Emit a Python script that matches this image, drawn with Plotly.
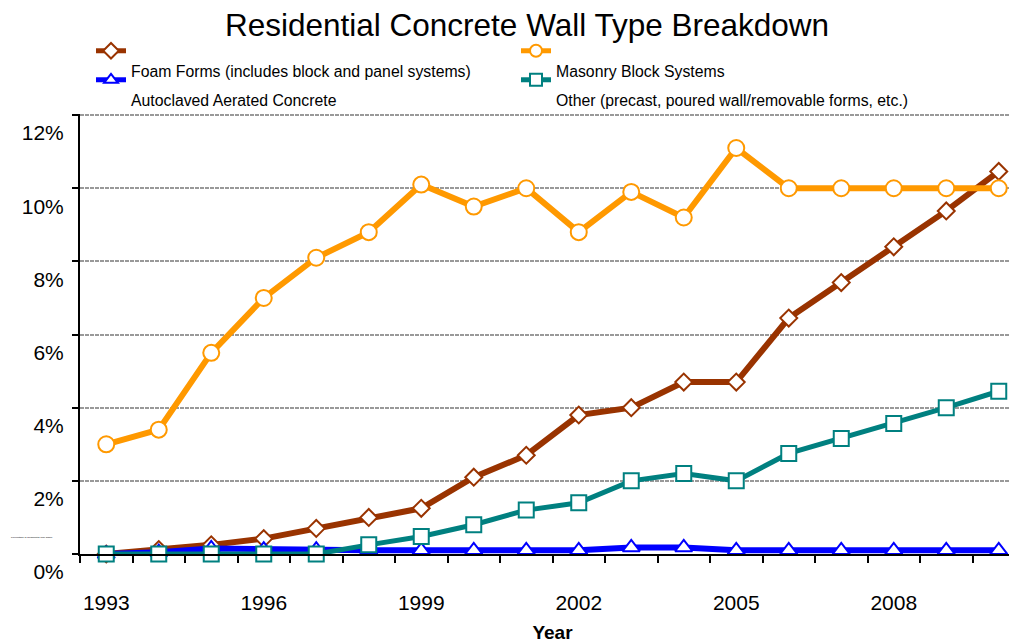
import plotly.graph_objects as go

years = [1993, 1994, 1995, 1996, 1997, 1998, 1999, 2000, 2001, 2002,
         2003, 2004, 2005, 2006, 2007, 2008, 2009, 2010]

foam_forms = [0.0, 0.12, 0.25, 0.42, 0.7, 1.0, 1.25, 2.1, 2.7, 3.8,
              4.0, 4.7, 4.7, 6.45, 7.42, 8.4, 9.38, 10.46]
masonry = [3.0, 3.4, 5.5, 7.0, 8.1, 8.8, 10.1, 9.5, 10.0, 8.8,
           9.9, 9.2, 11.1, 10.0, 10.0, 10.0, 10.0, 10.0]
aac = [0.0, 0.05, 0.15, 0.12, 0.12, 0.1, 0.1, 0.1, 0.1, 0.1,
       0.18, 0.18, 0.1, 0.1, 0.1, 0.1, 0.1, 0.1]
other = [0.0, 0.0, 0.0, 0.0, 0.0, 0.25, 0.48, 0.8, 1.2, 1.4,
         2.0, 2.2, 2.0, 2.75, 3.16, 3.57, 4.0, 4.45]

series_names = ["Foam Forms (includes block and panel systems)",
                "Masonry Block Systems",
                "Autoclaved Aerated Concrete",
                "Other (precast, poured wall/removable forms, etc.)"]

y_tickvals = [0, 2, 4, 6, 8, 10, 12]
y_ticktext = ["0%", "2%", "4%", "6%", "8%", "10%", "12%"]
x_tickvals = [1993, 1996, 1999, 2002, 2005, 2008]
x_ticktext = ["1993", "1996", "1999", "2002", "2005", "2008"]

title_text = "Residential Concrete Wall Type Breakdown"
x_title = "Year"
y_title = "Percentage of Residential Wall Share"

FONT = "Liberation Sans, Arial, sans-serif"
W, H = 1017, 642
OFF = 8  # page body margin offset

styles = [
    dict(color="#993300", symbol="diamond", size=13, width=6, legend="legend"),
    dict(color="#FF9900", symbol="circle", size=16, width=6, legend="legend2"),
    dict(color="#0000FF", symbol="triangle-up", size=15, width=6, legend="legend3"),
    dict(color="#008080", symbol="square", size=15, width=5, legend="legend4"),
]

fig = go.Figure()
for name, vals, st in zip(series_names, [foam_forms, masonry, aac, other], styles):
    fig.add_trace(go.Scatter(
        x=years, y=vals, name="<br>" + name, mode="lines+markers",
        line=dict(color=st["color"], width=st["width"]),
        marker=dict(symbol=st["symbol"], size=st["size"], color="white",
                    line=dict(color=st["color"], width=2)),
        legend=st["legend"], cliponaxis=False,
    ))


def leg(xpx, ypx):
    return dict(x=(xpx - OFF) / W, y=1 - (ypx - OFF) / H,
                xref="container", yref="container",
                xanchor="left", yanchor="top", valign="top",
                bgcolor="rgba(0,0,0,0)", borderwidth=0,
                itemsizing="constant",
                font=dict(family=FONT, size=15.8, color="black"))


fig.update_layout(
    width=W, height=H,
    paper_bgcolor="white", plot_bgcolor="white",
    margin=dict(l=80 - OFF, r=0, t=114 - OFF, b=H - (554 - OFF), autoexpand=False),
    title=dict(text=title_text, x=(527 - OFF) / W, xanchor="center",
               y=1 - (25 - OFF) / H, yanchor="middle",
               font=dict(family=FONT, size=31.5, color="black")),
    legend=leg(91, 34),
    legend2=leg(516, 34),
    legend3=leg(91, 63),
    legend4=leg(516, 63),
    showlegend=True,
    xaxis=dict(
        range=[1992.5, 2010.5], tickvals=x_tickvals, ticktext=x_ticktext,
        ticks="", showgrid=False, zeroline=False,
        showline=True, linecolor="black", linewidth=2,
        ticklabelstandoff=29,
        tickfont=dict(family=FONT, size=21, color="black"),
        minor=dict(tick0=1992.5, dtick=1, ticks="outside", ticklen=7,
                   tickwidth=1.5, tickcolor="black", showgrid=False),
        title=dict(text="<b>" + x_title + "</b>", standoff=12,
                   font=dict(family=FONT, size=19, color="black")),
    ),
    yaxis=dict(
        range=[0, 12.03], tickvals=y_tickvals, ticktext=y_ticktext,
        ticks="outside", ticklen=6, tickwidth=1.5, tickcolor="black",
        showline=True, linecolor="black", linewidth=2, zeroline=False,
        showgrid=True, gridcolor="#999999", gridwidth=2, griddash="4px,1px",
        ticklabelshift=18, ticklabelstandoff=4,
        tickfont=dict(family=FONT, size=21, color="black"),
    ),
    annotations=[dict(text=y_title, xref="paper", yref="paper",
                      x=-0.0755, y=0.0296, showarrow=False,
                      font=dict(family=FONT, size=2.5, color="black"))],
)

fig.write_html("out.html")
